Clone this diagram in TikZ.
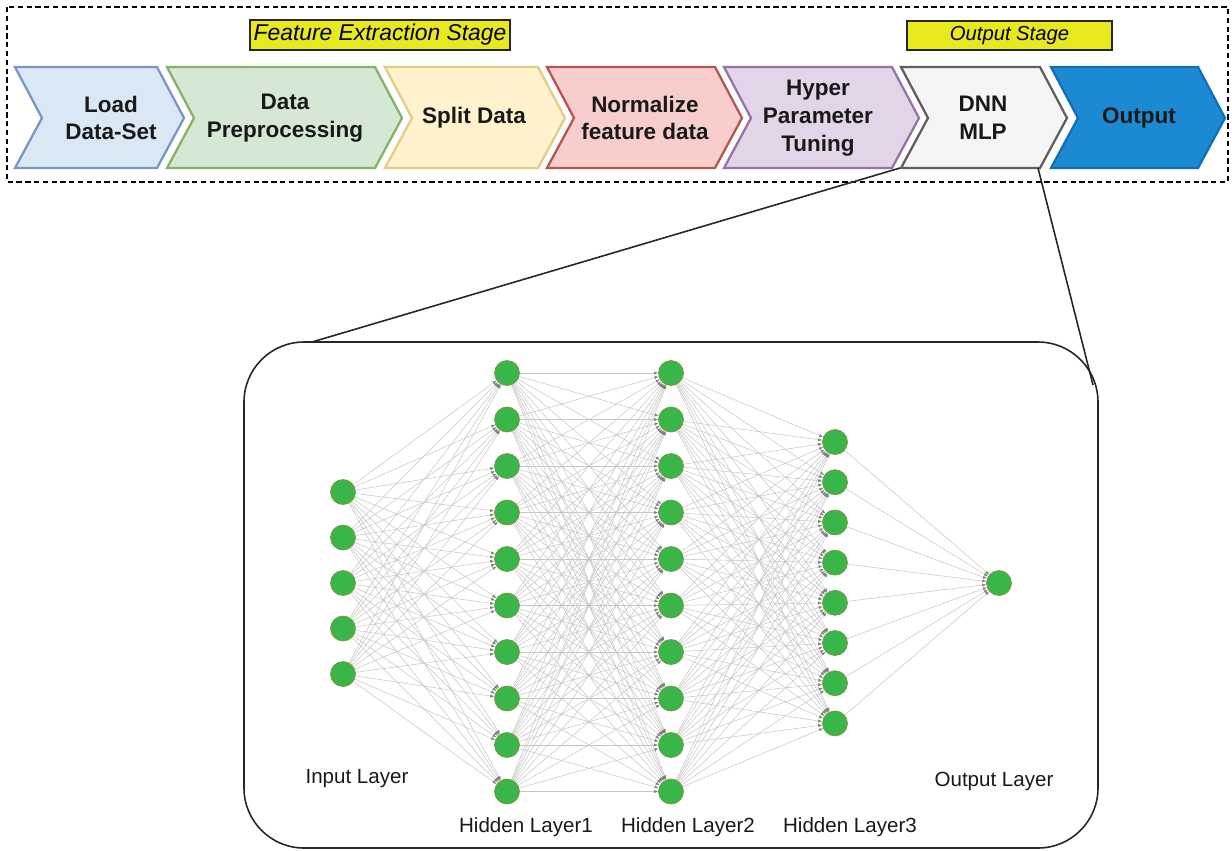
\documentclass[tikz,border=0pt]{standalone}
\usepackage{fontspec}
\setmainfont{Liberation Sans}
\usetikzlibrary{arrows.meta,positioning}

\definecolor{loadfill}{RGB}{218,232,246}
\definecolor{loaddraw}{RGB}{120,150,200}
\definecolor{prefill}{RGB}{213,232,212}
\definecolor{predraw}{RGB}{130,179,102}
\definecolor{splitfill}{RGB}{255,242,204}
\definecolor{splitdraw}{RGB}{226,206,130}
\definecolor{normfill}{RGB}{248,206,204}
\definecolor{normdraw}{RGB}{184,84,80}
\definecolor{hypfill}{RGB}{225,213,231}
\definecolor{hypdraw}{RGB}{150,115,166}
\definecolor{dnnfill}{RGB}{245,245,245}
\definecolor{dnndraw}{RGB}{95,95,95}
\definecolor{outfill}{RGB}{27,138,211}
\definecolor{outdraw}{RGB}{20,110,180}
\definecolor{stageyellow}{RGB}{232,232,30}
\definecolor{neurongreen}{RGB}{57,181,74}
\definecolor{neuronrim}{RGB}{125,150,60}

\tikzset{
  chevron/.style={line width=1.3pt, line join=miter},
  chevtext/.style={align=center, text=black!90, font=\fontsize{12.8}{15.8}\selectfont\bfseries},
  stagebox/.style={draw=black!85, line width=1pt, fill=stageyellow, inner sep=0pt},
  neuron/.style={circle, fill=neurongreen, draw=neuronrim, line width=0.4pt, minimum size=0.5cm, inner sep=0pt},
  synapse/.style={gray!45, line width=0.3pt, -{Latex[length=2.3pt,width=1.8pt,color=black!50]}},
  layerlabel/.style={font=\fontsize{11.7}{14}\selectfont, text=black!90},
}

\begin{document}
\begin{tikzpicture}[x=0.02cm, y=-0.02cm]
    \useasboundingbox (0,0) rectangle (1232,850);
    % pipeline frame
    \draw[dashed, line width=0.8pt, dash pattern=on 3pt off 2pt] (7,7) rectangle (1228,182);
    \node[stagebox, minimum width=5.2cm, minimum height=0.6cm, font=\fontsize{13}{15}\selectfont\itshape] (featstage) at (380,35) {Feature Extraction Stage};
    \node[stagebox, minimum width=4.1cm, minimum height=0.58cm, font=\fontsize{11.5}{14}\selectfont\itshape] (outstage) at (1009.5,35.5) {Output Stage};
    % chevrons: left, right, text x, colours, name, text
    \foreach \L/\R/\tx/\fc/\dc/\nm/\lab in {
        15/157/111/loadfill/loaddraw/load/{Load\\Data-Set},
        167/375/285/prefill/predraw/prep/{Data\\Preprocessing},
        385/538/474/splitfill/splitdraw/split/{Split Data},
        547/715/645/normfill/normdraw/norm/{Normalize\\feature data},
        724/892/818/hypfill/hypdraw/hyper/{Hyper\\Parameter\\Tuning},
        901/1040/983/dnnfill/dnndraw/dnn/{DNN\\MLP},
        1051/1198/1139/outfill/outdraw/output/{Output}} {
      \draw[chevron, fill=\fc, draw=\dc] (\L,67) -- (\R,67) -- (\R+27,118) -- (\R,168) -- (\L,168) -- (\L+27,118) -- cycle;
      \node[chevtext] (\nm) at (\tx,118) {\lab};
    }
    % zoom lines to the network panel
    \coordinate (dnnbl) at (900,168);
    \coordinate (dnnbr) at (1038,168);
    \coordinate (paneltl) at (312,342);
    \coordinate (paneltr) at (1093,385);
    \draw[black!85, line width=0.9pt, rounded corners=1.2cm] (244,342) rectangle (1098,848);
    \draw[black!85, line width=0.9pt] (dnnbl) -- (paneltl);
    \draw[black!85, line width=0.9pt] (dnnbr) -- (paneltr);
    % neurons
    \foreach \i in {1,...,5} \node[neuron] (in\i) at (343,{583+(\i-3)*45.5}) {};
    \foreach \i in {1,...,10} \node[neuron] (ha\i) at (507,{373+(\i-1)*46.5}) {};
    \foreach \i in {1,...,10} \node[neuron] (hb\i) at (671,{373+(\i-1)*46.5}) {};
    \foreach \i in {1,...,8} \node[neuron] (hc\i) at (835,{442+(\i-1)*40.2}) {};
    \node[neuron] (outn) at (999,583) {};
    % weights
    \foreach \i in {1,...,5} \foreach \j in {1,...,10} \draw[synapse] (in\i) -- (ha\j);
    \foreach \i in {1,...,10} \foreach \j in {1,...,10} \draw[synapse] (ha\i) -- (hb\j);
    \foreach \i in {1,...,10} \foreach \j in {1,...,8} \draw[synapse] (hb\i) -- (hc\j);
    \foreach \i in {1,...,8} \draw[synapse] (hc\i) -- (outn);
    % layer names
    \node[layerlabel] (inlab) at (357,779) {Input Layer};
    \node[layerlabel] (halab) at (526,827) {Hidden Layer1};
    \node[layerlabel] (hblab) at (688,827) {Hidden Layer2};
    \node[layerlabel] (hclab) at (850,827) {Hidden Layer3};
    \node[layerlabel] (outlab) at (994,781) {Output Layer};
\end{tikzpicture}
\end{document}
